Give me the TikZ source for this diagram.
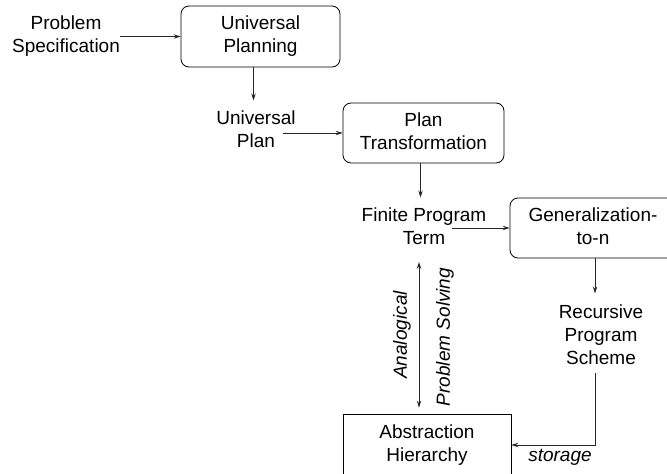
\documentclass[tikz,border=0pt]{standalone}
\usepackage{fontspec}
\setmainfont{Liberation Sans}
\usetikzlibrary{arrows.meta,calc}
\begin{document}
\begin{tikzpicture}[x=1pt,y=-1pt,
  lbl/.style={inner sep=0pt,align=center,font=\fontsize{19}{23}\selectfont,
    execute at begin node={\rule{0pt}{21.6pt}},
    execute at end node={\rule[-4pt]{0pt}{4pt}}},
  rbox/.style={lbl,draw,rounded corners=8pt,line width=0.8pt},
  sbox/.style={lbl,draw,line width=0.8pt},
  conn/.style={line width=0.8pt,black!85,-{Stealth[length=7pt,width=4.5pt,inset=2.5pt]}},
  dconn/.style={line width=0.8pt,black!85,{Stealth[length=7pt,width=4.5pt,inset=2.5pt]}-{Stealth[length=7pt,width=4.5pt,inset=2.5pt]}},
  itl/.style={inner sep=0pt,font=\fontsize{19}{23}\selectfont\itshape}]
\clip (0,0) rectangle (667,474);
\node[lbl] (spec) at (66,36.5) {Problem\\Specification};
\node[rbox,minimum width=159pt,minimum height=61pt] (up) at (260.5,36.5) {Universal\\Planning};
\node[lbl] (uplan) at (256,131.5) {Universal\\Plan};
\node[rbox,minimum width=161pt,minimum height=60pt] (pt) at (423.5,133) {Plan\\Transformation};
\node[lbl] (fpt) at (424,228.5) {Finite Program\\Term};
\node[rbox,minimum width=166pt,minimum height=60pt] (gen) at (593,228) {Generalization-\\to-n};
\node[lbl] (rps) at (601,336.5) {Recursive\\Program\\Scheme};
\node[sbox,minimum width=168pt,minimum height=62pt] (abs) at (427,445) {Abstraction\\Hierarchy};

\draw[conn] (spec.east |- up.west) -- (up.west);
\draw[conn] ([xshift=-7pt]up.south) -- ++(0,33);
\draw[conn] ([xshift=27pt]uplan.center |- pt.west) -- (pt.west);
\draw[conn] ([xshift=-3pt]pt.south) -- ++(0,34);
\draw[conn] ([xshift=28pt]fpt.center |- gen.west) -- (gen.west);
\draw[conn] (gen.south -| 595,0) -- ++(0,35);
\draw[conn] (595,373) -- (595,0 |- abs.east) -- (abs.east);
\node[itl] (stor) at (560,457) {storage};
\draw[dconn] ([xshift=-5pt]fpt.south |- 0,262) -- ([xshift=-8pt,yshift=6pt]abs.north);
\node[itl,rotate=90] (ana) at (402,335) {Analogical};
\node[itl,rotate=90] (pso) at (445,337) {Problem Solving};
\end{tikzpicture}
\end{document}
